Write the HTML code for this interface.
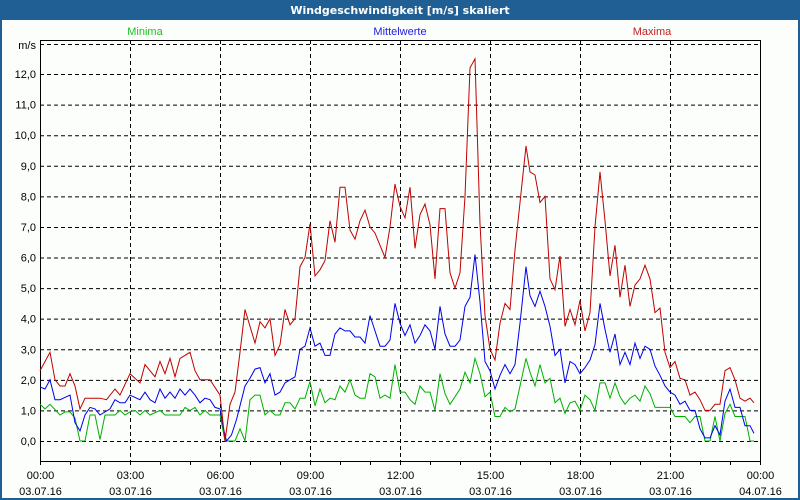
<!DOCTYPE html>
<html><head><meta charset="utf-8"><style>
body{margin:0;width:800px;height:500px;overflow:hidden;background:#fbfefb;font-family:"Liberation Sans","DejaVu Sans",sans-serif}
#wrap{position:absolute;left:0;top:0;width:796px;height:498px;border:2px solid #1f5f93;border-top:none;background:#fbfefb}
#title{position:absolute;left:0;top:0;width:800px;height:20px;background:#1f5f93;color:#fff;font-weight:bold;font-size:11px;text-align:center;line-height:21px;font-family:"DejaVu Sans",sans-serif}
svg{position:absolute;left:0;top:0;font-family:"Liberation Sans","DejaVu Sans",sans-serif}
</style></head><body>
<div id="wrap"></div>
<div id="title">Windgeschwindigkeit [m/s] skaliert</div>
<svg id="chart" width="800" height="500"></svg>
<script>
const yTicks=[0,1,2,3,4,5,6,7,8,9,10,11,12];
const xTickHours=[0,3,6,9,12,15,18,21,24];
const xTickTimes=["00:00","03:00","06:00","09:00","12:00","15:00","18:00","21:00","00:00"];
const xTickDates=["03.07.16","03.07.16","03.07.16","03.07.16","03.07.16","03.07.16","03.07.16","03.07.16","04.07.16"];
const maxT=[0,20,30,40,50,60,70,80,90,120,133,150,160,180,200,210,230,240,250,260,270,280,300,310,320,340,360,370,380,390,400,410,430,440,450,460,470,480,490,500,510,520,530,540,550,560,570,580,590,600,610,620,630,640,650,660,670,690,700,710,720,730,740,750,760,770,780,790,800,810,820,830,840,850,860,870,880,890,900,910,920,930,940,950,960,972,980,990,1000,1010,1020,1030,1040,1050,1060,1070,1080,1090,1100,1110,1120,1130,1140,1150,1160,1170,1180,1190,1200,1210,1220,1230,1240,1250,1260,1270,1280,1290,1300,1310,1320,1330,1340,1350,1360,1370,1380,1390,1400,1410,1420,1428];
const maxV=[2.3,2.9,2.0,1.8,1.8,2.2,1.8,1.05,1.4,1.4,1.35,1.7,1.5,2.2,1.9,2.5,2.1,2.6,2.2,2.7,2.1,2.7,2.9,2.3,2.0,2.0,1.5,0,1.2,1.6,2.9,4.3,3.2,3.9,3.7,4.0,2.8,3.15,4.3,3.8,4.0,5.7,6.0,7.1,5.4,5.6,5.9,7.2,6.5,8.3,8.3,6.9,6.6,7.2,7.55,7.0,6.8,6.0,7.0,8.4,7.67,7.3,8.3,6.3,7.4,7.75,7.07,5.3,7.6,7.6,5.5,5.0,5.5,8.0,12.2,12.5,7.1,4.1,3.0,2.65,3.85,4.5,4.3,6.25,7.8,9.65,8.8,8.7,7.8,8.0,5.3,4.95,6.05,3.75,4.3,3.8,4.6,3.6,4.2,7.0,8.8,7.2,5.4,6.4,4.7,5.75,4.4,5.1,5.3,5.75,5.3,4.2,4.35,2.9,2.4,2.6,2.05,2.0,1.5,1.6,1.35,1.0,1.0,1.2,1.2,2.3,2.4,2.0,1.4,1.3,1.4,1.25];
const meanT=[0,10,20,30,40,60,70,80,90,100,110,120,140,150,160,170,180,200,210,220,230,240,250,260,270,280,290,300,310,320,330,340,350,360,367,373,383,393,410,420,430,440,450,460,470,480,490,500,510,520,530,540,550,560,570,580,590,600,610,620,630,640,650,660,670,680,690,700,710,720,730,740,750,760,770,780,790,800,810,820,830,840,850,860,870,880,890,900,910,920,930,940,950,960,972,980,990,1000,1010,1020,1030,1040,1050,1060,1070,1080,1090,1100,1110,1120,1130,1140,1150,1160,1170,1180,1190,1200,1210,1220,1230,1240,1250,1260,1270,1280,1290,1300,1310,1320,1330,1340,1350,1360,1370,1380,1390,1400,1410,1420,1428];
const meanV=[1.77,1.7,2.0,1.35,1.35,1.5,0.6,0.33,0.85,1.1,1.05,0.85,1.05,1.35,1.25,1.25,1.5,1.35,1.6,1.35,1.25,1.7,1.4,1.6,1.4,1.7,1.5,1.7,1.5,1.25,1.4,1.35,1.1,1.05,0.4,0,0.2,0.7,1.8,2.05,2.35,2.4,1.9,2.2,1.5,1.6,1.9,2.0,2.1,3.0,3.1,3.7,3.1,3.2,2.8,2.8,3.5,3.7,3.6,3.6,3.4,3.4,3.2,4.1,3.6,3.1,3.1,3.3,4.5,3.85,3.45,3.8,3.2,3.45,3.8,3.6,3.0,4.4,3.5,3.1,3.1,3.3,4.4,4.7,6.1,4.55,2.6,2.3,1.7,2.15,2.5,2.2,2.5,3.85,5.7,4.75,4.4,4.9,4.4,3.75,2.8,3.0,1.9,2.6,2.5,2.2,2.4,2.65,3.15,4.5,3.65,2.9,3.5,2.5,2.9,2.5,3.2,2.7,3.1,3.0,2.45,2.15,1.8,1.6,1.5,1.2,1.3,1.0,1.0,0.4,0.1,0.1,0.5,0.2,1.3,1.7,1.1,1.1,0.5,0.5,0.25];
const minT=[0,10,20,40,50,60,70,80,90,100,110,120,130,150,160,170,180,190,200,210,220,240,250,280,290,300,310,320,330,340,360,370,390,400,410,420,430,440,450,460,470,480,490,500,510,520,530,540,550,560,570,580,590,600,610,620,630,640,650,660,670,680,690,700,710,720,730,740,750,760,770,780,790,800,810,820,830,840,850,860,870,880,890,900,910,920,930,940,950,960,972,980,990,1000,1010,1020,1030,1040,1050,1060,1070,1080,1090,1100,1110,1120,1130,1140,1150,1160,1170,1180,1190,1200,1210,1220,1230,1240,1250,1260,1270,1280,1290,1300,1310,1320,1330,1340,1350,1360,1370,1380,1390,1400,1410,1420,1428];
const minV=[1.2,1.05,1.2,0.85,0.95,0.95,0.75,0,0,0.85,0.85,0.05,0.85,0.85,1.0,0.85,0.95,1.0,0.85,1.0,0.85,1.0,0.85,0.85,1.1,1.0,1.1,0.85,1.0,0.85,0.85,0,0,0.4,0,1.35,1.5,1.5,0.85,1.0,0.85,0.85,1.25,1.25,1.05,1.4,1.4,1.95,1.15,1.7,1.25,1.4,1.35,1.8,1.6,2.0,1.5,1.4,1.4,2.2,2.1,1.4,1.5,1.4,2.5,1.6,1.6,1.35,1.2,1.8,1.6,1.6,1.0,2.2,1.55,1.2,1.45,1.7,2.25,1.9,2.7,2.2,1.45,1.6,0.8,0.8,1.1,0.95,1.05,1.8,2.7,2.25,1.8,2.5,1.9,2.05,1.25,1.4,0.9,1.25,1.3,1.0,1.5,1.35,1.0,1.9,1.9,1.4,1.9,1.45,1.2,1.4,1.5,1.3,1.8,1.55,1.1,1.1,1.1,1.1,0.8,0.8,0.8,0.6,0.8,0.8,0,0,0.8,0,0.9,1.2,0.8,0.8,0.8,0,0];

const svg=document.getElementById('chart');
const NS='http://www.w3.org/2000/svg';
const L=40,R=760,T=40,B=461,Y0=441,UNIT=30.58;
const xS=m=>L+m/1440*(R-L);
const yS=v=>Y0-v*UNIT;
function mk(tag,attrs){const e=document.createElementNS(NS,tag);for(const k in attrs)e.setAttribute(k,attrs[k]);svg.appendChild(e);return e;}
yTicks.forEach(v=>{
  const g=mk('line',{x1:L,x2:R,y1:yS(v)+0.5,y2:yS(v)+0.5,stroke:'#000','stroke-dasharray':'4,3','stroke-width':1});
  
  
  const t=mk('text',{x:36,y:yS(v)+4,'text-anchor':'end','font-size':11,fill:'#000'});
  t.textContent=v.toFixed(1).replace('.',',');
  
  
});
const topG=mk('line',{x1:L,x2:R,y1:44.5,y2:44.5,stroke:'#000','stroke-dasharray':'4,3'});


const unit=mk('text',{x:36,y:49,'text-anchor':'end','font-size':11,fill:'#000'});unit.textContent='m/s';


xTickHours.forEach((h,i)=>{
  const x=xS(h*60)+0.5;
  if(h>0&&h<24){const g=mk('line',{x1:x,x2:x,y1:T,y2:B,stroke:'#000','stroke-dasharray':'4,3'});
  
  }
  const t1=mk('text',{x:x,y:479,'text-anchor':'middle','font-size':11,fill:'#000'});t1.textContent=xTickTimes[i];
  
  
  const t2=mk('text',{x:x,y:495,'text-anchor':'middle','font-size':11,fill:'#000'});t2.textContent=xTickDates[i];
  
  
});
for(let h=0;h<=24;h++){const x=xS(h*60)+0.5;const tk=mk('line',{x1:x,x2:x,y1:B,y2:B+4,stroke:'#000'});
  
  }
const fr=mk('path',{d:`M${L+0.5},${B+0.5}H${R+0.5}V${T+0.5}H${L+0.5}Z`,fill:'none',stroke:'#000','stroke-width':1});


function series(ts,vs,color,name){
  const p=mk('polyline',{points:ts.map((t,i)=>xS(t).toFixed(1)+','+yS(vs[i]).toFixed(1)).join(' '),fill:'none',stroke:color,'stroke-width':1});
  
  
}
series(minT,minV,'#00b000','minima-line');
series(meanT,meanV,'#0000ee','mittelwerte-line');
series(maxT,maxV,'#c00000','maxima-line');
[['Minima',145,'#20c020','legend-minima'],['Mittelwerte',400,'#2020e0','legend-mittelwerte'],['Maxima',652,'#c02020','legend-maxima']].forEach(a=>{
  const t=mk('text',{x:a[1],y:35,'text-anchor':'middle','font-size':11,fill:a[2]});t.textContent=a[0];
  
  
});
</script>
</body></html>
